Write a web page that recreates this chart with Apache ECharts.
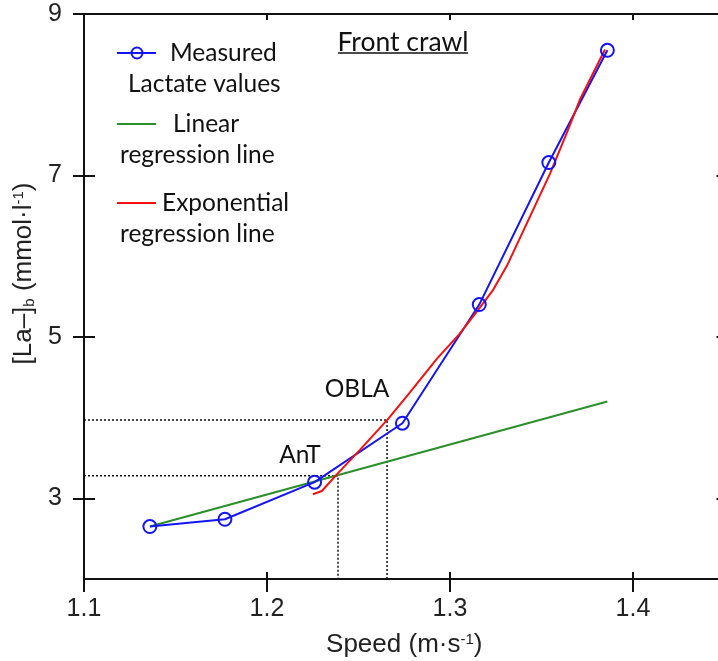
<!DOCTYPE html>
<html>
<head>
<meta charset="utf-8">
<script src="https://cdn.jsdelivr.net/npm/echarts@6/dist/echarts.min.js"></script>
<style>
  html, body { margin: 0; padding: 0; background: #fff; }
  #chart { width: 718px; height: 661px; }
</style>
</head>
<body>
<div id="chart"></div>
<script>
// measured lactate values
var speed = [1.136, 1.177, 1.226, 1.274, 1.316, 1.354, 1.386];
var lactate = [2.65, 2.74, 3.20, 3.93, 5.40, 7.16, 8.55];
// regression lines
var linearLine = [[1.136, 2.65], [1.386, 4.20]];
var expLine = [
  [1.2251, 3.05], [1.2300, 3.09], [1.2383, 3.30], [1.2508, 3.60], [1.2661, 3.98],
  [1.2780, 4.31], [1.2929, 4.73], [1.3050, 5.03], [1.3153, 5.33], [1.3235, 5.58],
  [1.3311, 5.88], [1.3437, 6.49], [1.3546, 7.02], [1.3639, 7.53], [1.3710, 7.94],
  [1.3847, 8.56]
];
// thresholds
var ant = [1.2388, 3.28];
var obla = [1.2656, 3.97];
var xTicks = [1.1, 1.2, 1.3, 1.4];
var yTicks = [3, 5, 7, 9];

var chart = echarts.init(document.getElementById('chart'));

var black = '#111';
var blue = '#1414f5';
var tickFont = '"Liberation Sans", Arial, sans-serif';
var noteFont = 'Lato, "Noto Sans", sans-serif';

function xAx(pos, tickLen, inside, showLine, showLabel) {
  return {
    type: 'value', min: 1.1, max: 1.45, position: pos,
    axisLine: { show: showLine, onZero: false, lineStyle: { color: black, width: 2 } },
    axisTick: { show: true, inside: inside, length: tickLen, customValues: xTicks, lineStyle: { color: black, width: 2 } },
    axisLabel: { show: showLabel, customValues: xTicks, margin: 18, fontSize: 25, color: '#222', fontFamily: tickFont },
    splitLine: { show: false }
  };
}
function yAx(pos, tickLen, inside, showLine, showLabel) {
  return {
    type: 'value', min: 2, max: 9, position: pos,
    axisLine: { show: showLine, onZero: false, lineStyle: { color: black, width: 2 } },
    axisTick: { show: true, inside: inside, length: tickLen, customValues: yTicks, lineStyle: { color: black, width: 2 } },
    axisLabel: { show: showLabel, customValues: yTicks, margin: 22, fontSize: 25, color: '#222', fontFamily: tickFont },
    splitLine: { show: false }
  };
}

var xAxes = [xAx('bottom', 13, false, true, true), xAx('bottom', 7, true, false, false), xAx('top', 6, true, true, false)];
xAxes[0].name = 'Speed (m·s{sup|-1})';
xAxes[0].nameLocation = 'middle';
xAxes[0].nameGap = 53;
xAxes[0].nameTextStyle = {
  fontSize: 26, color: '#222', fontFamily: tickFont,
  rich: { sup: { fontSize: 15, verticalAlign: 'top', fontFamily: tickFont, color: '#222' } }
};

var yAxes = [yAx('left', 11, false, true, true), yAx('left', 11, true, false, false), yAx('right', 8, true, true, false)];
yAxes[0].name = '[La\u2013]{sub|b} (mmol·l{sup|-1})';
yAxes[0].nameLocation = 'middle';
yAxes[0].nameGap = 40;
yAxes[0].nameTextStyle = {
  fontSize: 26, color: '#222', fontFamily: tickFont, padding: [0, 0, 0, 46],
  rich: {
    sup: { fontSize: 15, verticalAlign: 'top', fontFamily: tickFont, color: '#222' },
    sub: { fontSize: 15, verticalAlign: 'bottom', fontFamily: tickFont, color: '#222' }
  }
};

var dotted = { color: black, width: 1.5, type: [2, 2] };
var note = '24.5px ' + noteFont;

var option = {
  animation: false,
  grid: { left: 84, top: 14, width: 640.5, height: 565, outerBoundsMode: 'none' },
  xAxis: xAxes,
  yAxis: yAxes,
  series: [
    {
      type: 'line', showSymbol: false, lineStyle: dotted, silent: true,
      data: [[1.1, obla[1]], obla, [obla[0], 2]]
    },
    {
      type: 'line', showSymbol: false, lineStyle: dotted, silent: true,
      data: [[1.1, ant[1]], ant, [ant[0], 2]]
    },
    {
      name: 'Linear regression line', type: 'line', showSymbol: false,
      lineStyle: { color: '#2a8f2a', width: 2 }, data: linearLine
    },
    {
      name: 'Measured Lactate values', type: 'line',
      symbol: 'circle', symbolSize: 13,
      itemStyle: { color: 'rgba(0,0,0,0)', borderColor: blue, borderWidth: 2 },
      lineStyle: { color: blue, width: 2 },
      data: speed.map(function (s, i) { return [s, lactate[i]]; })
    },
    {
      name: 'Exponential regression line', type: 'line', showSymbol: false,
      lineStyle: { color: '#f51010', width: 2 }, data: expLine
    }
  ],
  graphic: [
    // legend
    { type: 'line', shape: { x1: 117, y1: 53, x2: 156, y2: 53 }, style: { stroke: blue, lineWidth: 2 } },
    { type: 'circle', shape: { cx: 137, cy: 53, r: 5.5 }, style: { fill: 'rgba(0,0,0,0)', stroke: blue, lineWidth: 2 } },
    { type: 'text', style: { x: 170, y: 53, text: 'Measured', font: note, fill: '#111', verticalAlign: 'middle' } },
    { type: 'text', style: { x: 128, y: 84, text: 'Lactate values', font: note, fill: '#111', verticalAlign: 'middle' } },
    { type: 'line', shape: { x1: 117, y1: 124, x2: 156, y2: 124 }, style: { stroke: '#2a8f2a', lineWidth: 2 } },
    { type: 'text', style: { x: 173, y: 124, text: 'Linear', font: note, fill: '#111', verticalAlign: 'middle' } },
    { type: 'text', style: { x: 120, y: 155, text: 'regression line', font: note, fill: '#111', verticalAlign: 'middle' } },
    { type: 'line', shape: { x1: 117, y1: 203, x2: 156, y2: 203 }, style: { stroke: '#f51010', lineWidth: 2 } },
    { type: 'text', style: { x: 162, y: 203, text: 'Exponential', font: note, fill: '#111', verticalAlign: 'middle' } },
    { type: 'text', style: { x: 120, y: 234, text: 'regression line', font: note, fill: '#111', verticalAlign: 'middle' } },
    // title
    { type: 'text', style: { x: 403, y: 42, text: 'Front crawl', font: '26.5px ' + noteFont, fill: '#111', align: 'center', verticalAlign: 'middle' } },
    { type: 'line', shape: { x1: 338, y1: 53, x2: 468, y2: 53 }, style: { stroke: '#111', lineWidth: 1.5 } },
    // threshold notes
    { type: 'text', style: { x: 357, y: 389, text: 'OBLA', font: note, fill: '#111', align: 'center', verticalAlign: 'middle' } },
    { type: 'text', style: { x: 300, y: 455, text: 'AnT', font: note, fill: '#111', align: 'center', verticalAlign: 'middle' } }
  ]
};

chart.setOption(option);
</script>
</body>
</html>
